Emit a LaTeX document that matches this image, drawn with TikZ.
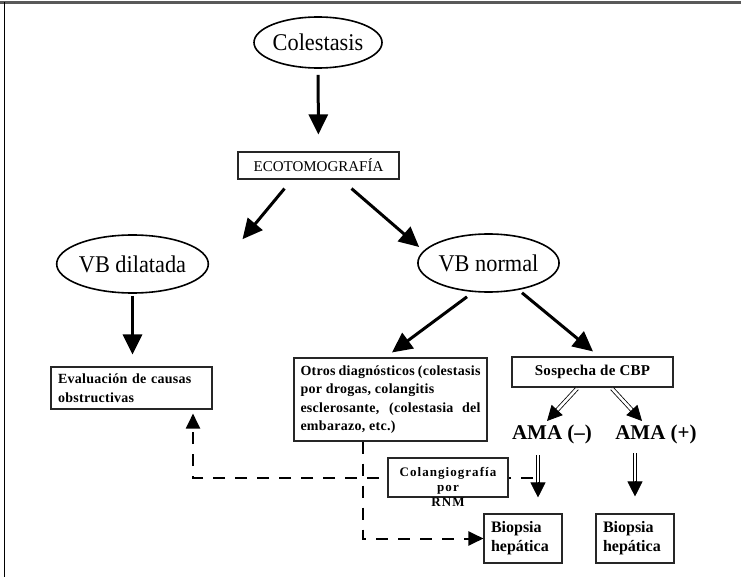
\documentclass[tikz,border=0pt]{standalone}
\usepackage{fontspec}
\setmainfont{Liberation Serif}
\newfontfamily\ovalfont[FakeStretch=0.93]{Liberation Serif}
\newfontfamily\trackfont[LetterSpace=2]{Liberation Serif}
\newfontfamily\widetrackfont[LetterSpace=8]{Liberation Serif}
\usetikzlibrary{arrows.meta,calc,shapes.geometric}
\tikzset{
 oval/.style={draw,ellipse,line width=1.6pt,inner sep=0pt,font=\ovalfont\fontsize{24}{28}\selectfont},
 box/.style={draw=black!85,line width=1.1pt,inner ysep=0pt},
 boldtext/.style={font=\trackfont\bfseries\fontsize{14}{18.5}\selectfont},
 flow/.style={line width=3pt,-{Triangle[length=20pt,width=19pt]}},
 dashflow/.style={line width=2pt,dash pattern=on 12pt off 10pt,-{Triangle[length=15pt,width=14pt]}},
 dblshaft/.style={double,double distance=2.6pt,line width=0.8pt,shorten >=12pt},
 dblhead/.style={line width=0.8pt,-{Triangle[length=15pt,width=15pt]}}
}
\begin{document}
\begin{tikzpicture}[x=1pt,y=-1pt]
 \useasboundingbox (0,0) rectangle (741,577);
 \draw[gray!70!black,line width=2.5pt] (0,2.5) -- (741,2.5);
 \draw[line width=1.5pt] (4.5,2) -- (4.5,577);

 \node[oval,minimum width=120pt,minimum height=51pt] (colestasis) at (318,42.5) {Colestasis};
 \node[box,minimum width=161pt,minimum height=27pt,font=\fontsize{15}{18}\selectfont] (eco) at (318.5,165.5) {ECOTOMOGRAFÍA};
 \node[oval,minimum width=139pt,minimum height=58pt] (vbdil) at (132.5,264) {VB dilatada};
 \node[oval,minimum width=137pt,minimum height=58pt] (vbnor) at (488.5,263) {VB normal};
 \node[box,boldtext,text width=147pt,inner xsep=7pt,minimum height=42pt,align=left] (eval) at (131.5,388) {Evaluación de causas\\obstructivas};
 \node[box,boldtext,text width=180pt,inner xsep=6.5pt,minimum height=83pt,align=justify] (otros) at (390.5,399.5)
  {Otros diagnósticos (colestasis\linebreak por drogas, colangitis\\ esclerosante, (colestasia del\linebreak embarazo, etc.)};
 \node[box,minimum width=161pt,minimum height=30pt,font=\trackfont\bfseries\fontsize{15}{18}\selectfont] (sosp) at (592.5,372) {Sospecha de CBP};
 \node[font=\bfseries\fontsize{21}{24}\selectfont] (amaneg) at (552,434) {AMA~(–)};
 \node[font=\bfseries\fontsize{21}{24}\selectfont] (amapos) at (656,434) {AMA~(+)};
 \node[box,text width=64pt,inner xsep=7pt,minimum height=49pt,align=left,font=\bfseries\fontsize{16}{19}\selectfont] (biop1) at (523,538.5) {Biopsia\\hepática};
 \node[box,text width=64pt,inner xsep=7pt,minimum height=49pt,align=left,font=\bfseries\fontsize{16}{19}\selectfont] (biop2) at (635,538.5) {Biopsia\\hepática};

 \draw[flow,shorten <=6pt,shorten >=17pt] (colestasis) -- (eco);
 \draw[flow] ($(eco.south)+(-34,9)$) -- ($(vbdil.north)+(110,5)$);
 \draw[flow] ($(eco.south)+(33,9)$) -- ($(vbnor.west)+(2,-16)$);
 \draw[flow,shorten <=2pt,shorten >=12pt] (vbdil.south) -- (vbdil.south |- eval.north);
 \draw[flow] ($(vbnor.south)+(-21.5,4)$) -- ($(otros.north)+(1.5,-5)$);
 \draw[flow] ($(vbnor.south)+(33.5,0)$) -- ($(sosp.north)+(0.5,-5)$);

 \coordinate (sospl) at ($(sosp.south)+(-15.5,1)$);
 \coordinate (sospr) at ($(sosp.south)+(19.5,1)$);
 \coordinate (amanegin) at ($(amaneg)+(-5,-13)$);
 \coordinate (amaposin) at ($(amapos)+(-14,-13)$);
 \coordinate (amanegout) at ($(amaneg)+(-14,21)$);
 \coordinate (amaposout) at ($(amapos)+(-21,19)$);
 \coordinate (biop1in) at ($(biop1.north)+(15,-16)$);
 \coordinate (biop2in) at ($(biop2.north)+(0,-17)$);
 \draw[dblshaft] (sospl) -- (amanegin);
 \draw[dblhead] ($(amanegin)!15pt!(sospl)$) -- (amanegin);
 \draw[dblshaft] (sospr) -- (amaposin);
 \draw[dblhead] ($(amaposin)!15pt!(sospr)$) -- (amaposin);
 \draw[dblshaft] (amanegout) -- (biop1in);
 \draw[dblhead] ($(biop1in)!15pt!(amanegout)$) -- (biop1in);
 \draw[dblshaft] (amaposout) -- (biop2in);
 \draw[dblhead] ($(biop2in)!15pt!(amaposout)$) -- (biop2in);

 \draw[dashflow] ($(amaneg)+(-19,44)$) -| ($(eval.south)+(61.5,4)$);
 \draw[dashflow] ($(otros.south)+(-27.5,0)$) |- (biop1.west);

 \node[box,fill=white,minimum width=120pt,minimum height=39pt] (colangio) at (448,477.5) {};
 \node[align=center,inner sep=0pt,font=\widetrackfont\bfseries\fontsize{13}{15}\selectfont] (colangiotext) at (448,487) {Colangiografía\\por\\RNM};
\end{tikzpicture}
\end{document}
